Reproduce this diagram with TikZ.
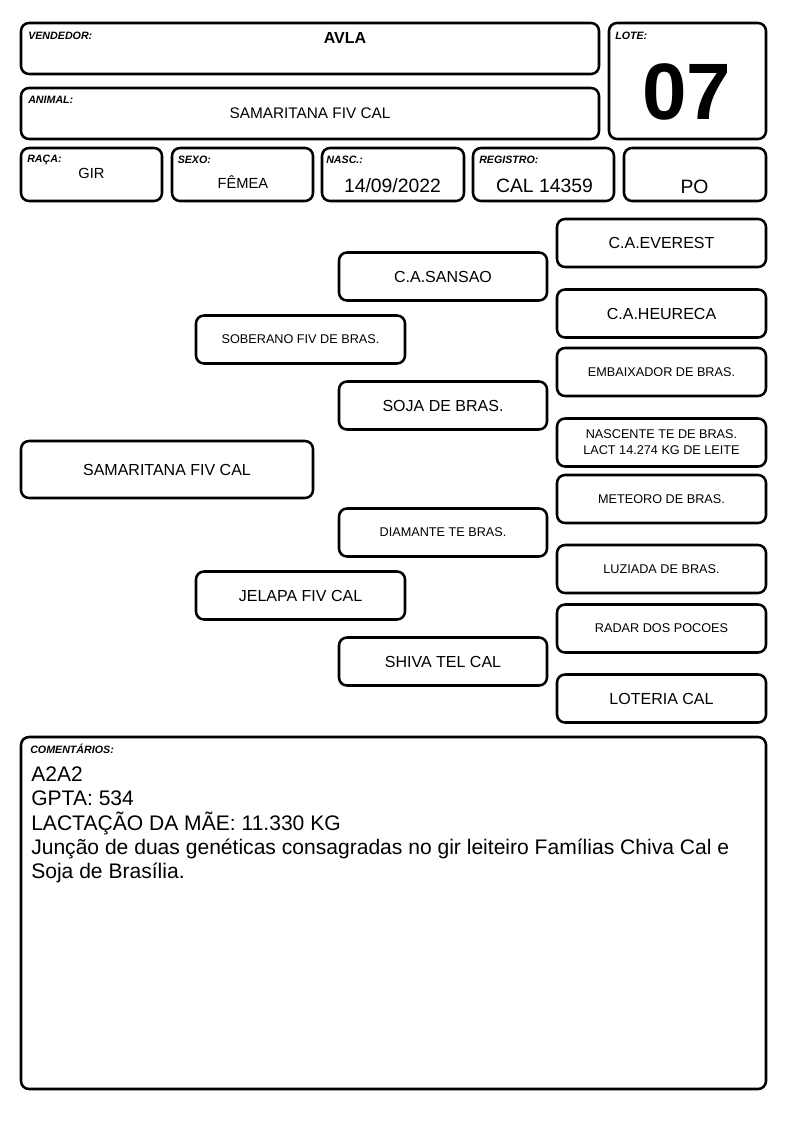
\documentclass[tikz,border=0pt]{standalone}
\usepackage{fontspec}
\setmainfont{Liberation Sans}
\begin{document}
\begin{tikzpicture}[x=0.75pt,y=-0.75pt,
  box/.style={draw, line width=1.9pt, rounded corners=6pt, inner sep=0pt, align=center},
  lbl/.style={anchor=west, inner sep=0pt, font=\fontsize{8}{9.6}\selectfont\bfseries\itshape},
  val/.style={inner sep=0pt},
  bigf/.style={font=\fontsize{12}{14}\selectfont},
  smallf/.style={font=\fontsize{9.5}{12}\selectfont},
  rcol/.style={box, minimum width=156.75pt, minimum height=36pt},
  mcol/.style={box, minimum width=156pt, minimum height=36pt},
  scol/.style={box, minimum width=156.75pt, minimum height=36pt},
  hsmall/.style={box, minimum height=39.75pt}
]
\useasboundingbox (0,0) rectangle (794,1123);

% header boxes
\node[box, minimum width=433.5pt, minimum height=38.25pt] (vend) at (310,48.5) {};
\node[box, minimum width=117.75pt, minimum height=87pt] (lote) at (687.5,81) {};
\node[box, minimum width=433.5pt, minimum height=38.25pt] (animal) at (310,113.5) {};
\node[hsmall, minimum width=105.75pt] (raca) at (91.5,174.5) {};
\node[hsmall, minimum width=105.75pt] (sexo) at (242.5,174.5) {};
\node[hsmall, minimum width=106.5pt] (nasc) at (393,174.5) {};
\node[hsmall, minimum width=105.75pt] (reg) at (543.5,174.5) {};
\node[hsmall, minimum width=106.5pt] (po) at (695,174.5) {};

\node[lbl] (lvend) at (28,35.5) {VENDEDOR:};
\node[lbl] (llote) at (615,35.5) {LOTE:};
\node[lbl] (lanimal) at (28,100) {ANIMAL:};
\node[lbl] (lraca) at (27,160) {RAÇA:};
\node[lbl] (lsexo) at (177.5,160) {SEXO:};
\node[lbl] (lnasc) at (326,160) {NASC.:};
\node[lbl] (lreg) at (479,160) {REGISTRO:};

\node[val, font=\fontsize{12}{14}\selectfont\bfseries] (tvend) at (345,37.5) {AVLA};
\node[val, font=\fontsize{60}{60}\selectfont\bfseries] (tlote) at (686.5,91.5) {07};
\node[val, font=\fontsize{11.5}{14}\selectfont] (tanimal) at (310,113.5) {SAMARITANA FIV CAL};
\node[val, font=\fontsize{11}{13}\selectfont] (traca) at (91.5,173) {GIR};
\node[val, font=\fontsize{11}{13}\selectfont, anchor=base] (tsexo) at (243,188.5) {FÊMEA};
\node[val, font=\fontsize{14.5}{17}\selectfont] (tnasc) at (392.5,186) {14/09/2022};
\node[val, font=\fontsize{14.5}{17}\selectfont] (treg) at (544.5,186) {CAL 14359};
\node[val, font=\fontsize{14.5}{17}\selectfont] (tpo) at (694.5,186.5) {PO};

% pedigree
\node[rcol, bigf] (everest) at (661.5,243) {C.A.EVEREST};
\node[rcol, bigf] (heureca) at (661.5,313.5) {C.A.HEURECA};
\node[rcol, smallf] (embaix) at (661.5,372) {EMBAIXADOR DE BRAS.};
\node[rcol, smallf] (nascente) at (661.5,442.5) {NASCENTE TE DE BRAS.\\LACT 14.274 KG DE LEITE};
\node[rcol, smallf] (meteoro) at (661.5,499) {METEORO DE BRAS.};
\node[rcol, smallf] (luziada) at (661.5,569) {LUZIADA DE BRAS.};
\node[rcol, smallf] (radar) at (661.5,628.5) {RADAR DOS POCOES};
\node[rcol, bigf] (loteria) at (661.5,698.5) {LOTERIA CAL};

\node[mcol, bigf] (sansao) at (443,276.5) {C.A.SANSAO};
\node[mcol, bigf] (soja) at (443,405.5) {SOJA DE BRAS.};
\node[mcol, smallf] (diamante) at (443,532.5) {DIAMANTE TE BRAS.};
\node[mcol, bigf] (shiva) at (443,661.5) {SHIVA TEL CAL};

\node[scol, smallf] (soberano) at (300.5,339.5) {SOBERANO FIV DE BRAS.};
\node[scol, bigf] (jelapa) at (300.5,595.5) {JELAPA FIV CAL};

\node[box, bigf, minimum width=219pt, minimum height=42.75pt] (samaritana) at (167,469.5) {SAMARITANA FIV CAL};

% comments
\node[box, minimum width=558.75pt, minimum height=264pt] (coment) at (393.5,913) {};
\node[lbl] (lcoment) at (30,748.5) {COMENTÁRIOS:};
\node[val, anchor=north west, align=left, font=\fontsize{15.8}{18.2}\selectfont] (tcoment) at (31,766.5)
  {A2A2\\GPTA: 534\\LACTAÇÃO DA MÃE: 11.330 KG\\Junção de duas genéticas consagradas no gir leiteiro Famílias Chiva Cal e\\Soja de Brasília.};
\end{tikzpicture}
\end{document}
